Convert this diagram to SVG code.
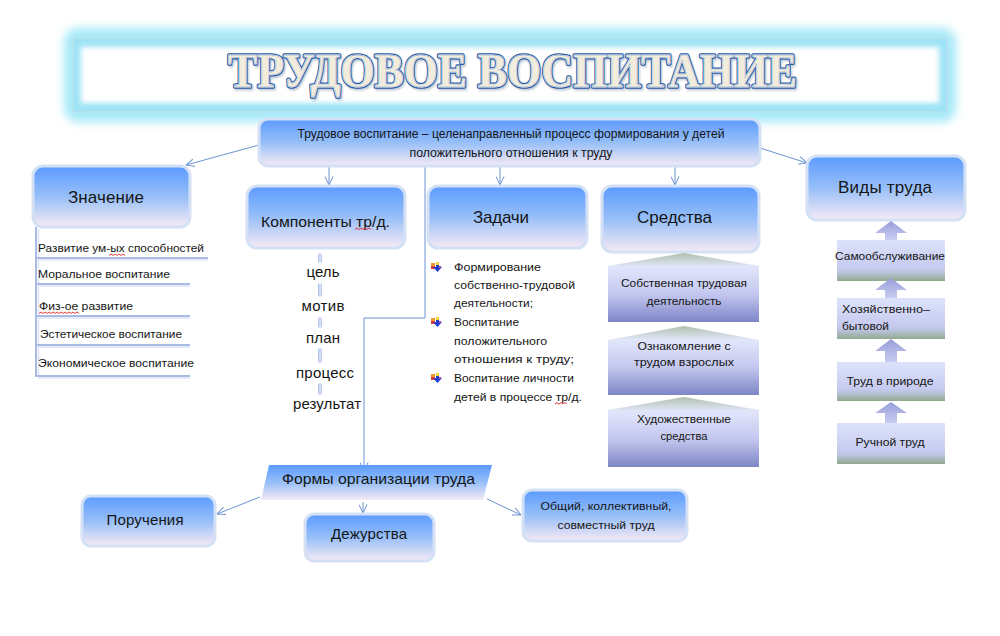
<svg xmlns="http://www.w3.org/2000/svg" width="1000" height="636" viewBox="0 0 1000 636">
<defs>
<linearGradient id="boxg" x1="0" y1="0" x2="0" y2="1">
<stop offset="0" stop-color="#5b9bff"/>
<stop offset="0.5" stop-color="#97bff8"/>
<stop offset="1" stop-color="#f6eaf4"/>
</linearGradient>
<linearGradient id="pentg" x1="0" y1="0" x2="0" y2="1">
<stop offset="0" stop-color="#b0c0ac"/>
<stop offset="0.2" stop-color="#e2e6fb"/>
<stop offset="0.6" stop-color="#c3c7ef"/>
<stop offset="1" stop-color="#7d85c6"/>
</linearGradient>
<linearGradient id="vidg" x1="0" y1="0" x2="0" y2="1">
<stop offset="0" stop-color="#dde2fb"/>
<stop offset="0.68" stop-color="#c6cbf0"/>
<stop offset="0.8" stop-color="#b8c2d8"/>
<stop offset="1" stop-color="#91a98d"/>
</linearGradient>
<linearGradient id="arrg" x1="0" y1="0" x2="0" y2="1">
<stop offset="0" stop-color="#979ed8"/>
<stop offset="1" stop-color="#c9cdf2"/>
</linearGradient>
<linearGradient id="barg" x1="0" y1="0" x2="1" y2="0">
<stop offset="0" stop-color="#9cb3e6"/>
<stop offset="0.5" stop-color="#e6edfb"/>
<stop offset="1" stop-color="#a9bde9"/>
</linearGradient>
<filter id="glow" x="-10%" y="-30%" width="120%" height="160%"><feGaussianBlur stdDeviation="5"/></filter>
<filter id="soft" x="-5%" y="-20%" width="110%" height="140%"><feGaussianBlur stdDeviation="2.5"/></filter>
<filter id="tshadow" x="-5%" y="-20%" width="110%" height="150%"><feGaussianBlur stdDeviation="1.2"/></filter>
<marker id="arr" viewBox="0 0 10 10" refX="9.5" refY="5" markerWidth="9" markerHeight="9" orient="auto" markerUnits="userSpaceOnUse">
<path d="M0,0.5 L9.5,5 L0,9.5" fill="none" stroke="#6d93d2" stroke-width="1.1"/>
</marker>
<g id="bul">
<rect x="-6" y="-4" width="4" height="3" fill="#f29a2e"/>
<rect x="-6" y="-1" width="4" height="3" fill="#e23a3a"/>
<rect x="-1" y="-5" width="3" height="3" fill="#f6d23a"/>
<path d="M-1,-2 L2,-2 L2,0 L5,0 L0.5,5 L-4,0 L-1,0 Z" fill="#1d3fcf"/>
<rect x="2" y="-1" width="2" height="2" fill="#b04aa8"/>
</g>
</defs>
<style>
.box{fill:url(#boxg);stroke:#d4e1f5;stroke-width:3}
.t{font-family:"Liberation Sans",Arial,sans-serif;fill:#151515}
.s11{font-size:11.5px}
.s12{font-size:12px}
.s15{font-size:15px}
.s17{font-size:17px}
.m{text-anchor:middle}
.conn{stroke:#6d93d2;stroke-width:1;fill:none}
.hl{stroke:#a9bbe3;stroke-width:2;fill:none}
.hl2{stroke:#dbe3f4;stroke-width:1.5;fill:none}
.sq{stroke:#e0262a;stroke-width:0.9;fill:none}
.bar{fill:url(#barg)}
.pent{fill:url(#pentg)}
.vid{fill:url(#vidg)}
.varr{fill:url(#arrg)}
.ttl{font-family:"Liberation Serif","Times New Roman",serif;font-size:48px;font-weight:bold;text-anchor:middle}
</style>
<rect x="0" y="0" width="1000" height="636" fill="#ffffff"/>

<g id="title">
<rect x="64" y="28" width="892" height="94" rx="14" fill="#a6e9f8" filter="url(#glow)"/>
<rect x="73" y="38" width="874" height="74" fill="#9fe4f6" stroke="#c2dfe8" stroke-width="1"/>
<rect x="81" y="47" width="858" height="56" fill="#ffffff" filter="url(#soft)"/>
<text class="ttl" x="514" y="89" textLength="569" lengthAdjust="spacingAndGlyphs" fill="#7d8fa8" stroke="#7d8fa8" stroke-width="3" filter="url(#tshadow)" opacity="0.5">ТРУДОВОЕ ВОСПИТАНИЕ</text>
<text class="ttl" x="512.5" y="87" textLength="569" lengthAdjust="spacingAndGlyphs" fill="#2d5da6" stroke="#2d5da6" stroke-width="3.6" stroke-linejoin="round">ТРУДОВОЕ ВОСПИТАНИЕ</text>
<text class="ttl" x="512.5" y="87" textLength="569" lengthAdjust="spacingAndGlyphs" fill="#f3efe1" stroke="#fbfaf4" stroke-width="1.1" stroke-linejoin="round">ТРУДОВОЕ ВОСПИТАНИЕ</text>
<text class="ttl" x="512.5" y="87" textLength="569" lengthAdjust="spacingAndGlyphs" fill="#f1ecdc" stroke="#7f9fd0" stroke-width="0.4">ТРУДОВОЕ ВОСПИТАНИЕ</text>
</g>

<g id="connectors">
<path class="conn" d="M259,145 L186,165" marker-end="url(#arr)"/>
<path class="conn" d="M329,166 L329,185" marker-end="url(#arr)"/>
<path class="conn" d="M500,166 L500,185" marker-end="url(#arr)"/>
<path class="conn" d="M675,166 L675,185" marker-end="url(#arr)"/>
<path class="conn" d="M760,148 L807,163" marker-end="url(#arr)"/>
<path class="conn" d="M425,166 L425,318 L364,318 L364,471" marker-end="url(#arr)"/>
<path class="conn" d="M260,497 L217,514" marker-end="url(#arr)"/>
<path class="conn" d="M363,502 L363,513" marker-end="url(#arr)"/>
<path class="conn" d="M487,499 L521,515" marker-end="url(#arr)"/>
</g>

<g id="definition">
<rect class="box" x="259" y="119" width="501" height="47" rx="9"/>
<text class="t s12 m" x="511" y="138" textLength="427" lengthAdjust="spacingAndGlyphs">Трудовое воспитание – целенаправленный  процесс формирования у детей</text>
<text class="t s12 m" x="511" y="157" textLength="203" lengthAdjust="spacingAndGlyphs">положительного  отношения к труду</text>
</g>

<g id="znachenie">
<rect class="box" x="33" y="166" width="157" height="61" rx="10"/>
<text class="t s17 m" x="106" y="203" textLength="76">Значение</text>
</g>

<g id="znachenie-list">
<path class="hl" d="M36,227 L36,377"/>
<path class="hl2" d="M38.5,229 L38.5,377"/>
<path class="hl" d="M36,258 L208,258"/><path class="hl2" d="M38,260 L208,260"/>
<path class="hl" d="M36,284 L190,284"/><path class="hl2" d="M38,286 L190,286"/>
<path class="hl" d="M36,316 L190,316"/><path class="hl2" d="M38,318 L190,318"/>
<path class="hl" d="M36,345 L190,345"/><path class="hl2" d="M38,347 L190,347"/>
<path class="hl" d="M36,376 L190,376"/><path class="hl2" d="M38,378 L190,378"/>
<text class="t s11" x="38" y="252" textLength="166" lengthAdjust="spacingAndGlyphs">Развитие ум-ых способностей</text>
<text class="t s11" x="38" y="278" textLength="132" lengthAdjust="spacingAndGlyphs">Моральное воспитание</text>
<text class="t s11" x="39" y="310" textLength="94" lengthAdjust="spacingAndGlyphs">Физ-ое  развитие</text>
<text class="t s11" x="40" y="338" textLength="142" lengthAdjust="spacingAndGlyphs">Эстетическое  воспитание</text>
<text class="t s11" x="38" y="367" textLength="156" lengthAdjust="spacingAndGlyphs">Экономическое  воспитание</text>
<polyline class="sq" points="109,255.5 111,254 113,255.5 115,254 117,255.5 119,254 121,255.5 123,254 125,255.5"/>
<polyline class="sq" points="39,313.5 41,312 43,313.5 45,312 47,313.5 49,312 51,313.5 53,312 55,313.5 57,312 59,313.5 61,312 63,313.5 65,312 67,313.5 69,312 71,313.5 73,312 75,313.5 77,312 79,313.5"/>
</g>

<g id="komponenty">
<rect class="box" x="247" y="186" width="158" height="62" rx="10"/>
<text class="t s15 m" x="325.5" y="227" textLength="129" lengthAdjust="spacingAndGlyphs">Компоненты тр/д.</text>
<polyline class="sq" points="355,229.5 357,228 359,229.5 361,228 363,229.5 365,228 367,229.5 369,228 371,229.5"/>
</g>

<g id="komponenty-list">
<rect class="bar" x="318" y="253" width="4" height="10" rx="2"/>
<rect class="bar" x="318" y="283" width="4" height="14" rx="2"/>
<rect class="bar" x="318" y="317" width="4" height="11" rx="2"/>
<rect class="bar" x="318" y="348" width="4" height="15" rx="2"/>
<rect class="bar" x="318" y="383" width="4" height="12" rx="2"/>
<text class="t s15 m" x="323" y="277" textLength="33">цель</text>
<text class="t s15 m" x="323" y="311" textLength="43">мотив</text>
<text class="t s15 m" x="323" y="343" textLength="34">план</text>
<text class="t s15 m" x="325" y="378" textLength="58">процесс</text>
<text class="t s15 m" x="327" y="409" textLength="68">результат</text>
</g>

<g id="zadachi">
<rect class="box" x="428" y="186" width="159" height="62" rx="10"/>
<text class="t s17 m" x="501" y="223" textLength="56">Задачи</text>
</g>

<g id="zadachi-list">
<use href="#bul" x="437" y="267"/>
<use href="#bul" x="437" y="322"/>
<use href="#bul" x="437" y="378"/>
<text class="t s11" x="454" y="271" textLength="87" lengthAdjust="spacingAndGlyphs">Формирование</text>
<text class="t s11" x="454" y="289" textLength="121" lengthAdjust="spacingAndGlyphs">собственно-трудовой</text>
<text class="t s11" x="454" y="307" textLength="79" lengthAdjust="spacingAndGlyphs">деятельности;</text>
<text class="t s11" x="454" y="326" textLength="65" lengthAdjust="spacingAndGlyphs">Воспитание</text>
<text class="t s11" x="454" y="345" textLength="93" lengthAdjust="spacingAndGlyphs">положительного</text>
<text class="t s11" x="454" y="363" textLength="120" lengthAdjust="spacingAndGlyphs">отношения к труду;</text>
<text class="t s11" x="454" y="382" textLength="120" lengthAdjust="spacingAndGlyphs">Воспитание личности</text>
<text class="t s11" x="454" y="401" textLength="128" lengthAdjust="spacingAndGlyphs">детей в процессе тр/д.</text>
<polyline class="sq" points="555,404 557,402.5 559,404 561,402.5 563,404 565,402.5 567,404"/>
</g>

<g id="sredstva">
<rect class="box" x="602" y="186" width="157" height="66" rx="10"/>
<text class="t s17 m" x="674.5" y="223" textLength="75">Средства</text>
</g>

<g id="sredstva-1">
<polygon class="pent" points="684,253 759,266 759,322 608,322 608,266"/>
<text class="t s11 m" x="684" y="287" textLength="126" lengthAdjust="spacingAndGlyphs">Собственная трудовая</text>
<text class="t s11 m" x="684" y="305" textLength="75" lengthAdjust="spacingAndGlyphs">деятельность</text>
</g>
<g id="sredstva-2">
<polygon class="pent" points="684,326 759,340 759,395 608,395 608,340"/>
<text class="t s11 m" x="684" y="350" textLength="93" lengthAdjust="spacingAndGlyphs">Ознакомление  с</text>
<text class="t s11 m" x="684" y="366" textLength="100" lengthAdjust="spacingAndGlyphs">трудом  взрослых</text>
</g>
<g id="sredstva-3">
<polygon class="pent" points="684,397 759,410 759,467 608,467 608,410"/>
<text class="t s11 m" x="684" y="423" textLength="94" lengthAdjust="spacingAndGlyphs">Художественные</text>
<text class="t s11 m" x="684" y="440" textLength="47" lengthAdjust="spacingAndGlyphs">средства</text>
</g>

<g id="vidy">
<rect class="box" x="807" y="156" width="158" height="64" rx="10"/>
<text class="t s17 m" x="885" y="193" textLength="94">Виды труда</text>
</g>

<g id="vidy-1">
<polygon class="varr" points="891,221 907,233 897,233 897,240 885,240 885,233 875,233"/>
<rect class="vid" x="837" y="240" width="108" height="41"/>
<text class="t s11 m" x="890" y="260" textLength="110" lengthAdjust="spacingAndGlyphs">Самообслуживание</text>
</g>
<g id="vidy-2">
<polygon class="varr" points="891,278 907,290 897,290 897,298 885,298 885,290 875,290"/>
<rect class="vid" x="837" y="298" width="108" height="41"/>
<text class="t s11" x="842" y="313" textLength="88" lengthAdjust="spacingAndGlyphs">Хозяйственно–</text>
<text class="t s11" x="842" y="330" textLength="47" lengthAdjust="spacingAndGlyphs">бытовой</text>
</g>
<g id="vidy-3">
<polygon class="varr" points="891,339 907,351 897,351 897,362 885,362 885,351 875,351"/>
<rect class="vid" x="837" y="362" width="108" height="39"/>
<text class="t s11 m" x="890" y="385" textLength="87" lengthAdjust="spacingAndGlyphs">Труд в природе</text>
</g>
<g id="vidy-4">
<polygon class="varr" points="891,402 907,413 897,413 897,423 885,423 885,413 875,413"/>
<rect class="vid" x="837" y="423" width="108" height="41"/>
<text class="t s11 m" x="890" y="446" textLength="69" lengthAdjust="spacingAndGlyphs">Ручной труд</text>
</g>

<g id="formy">
<polygon points="269,465 492,465 483,500 261,500" fill="url(#boxg)"/>
<text class="t s15 m" x="378.5" y="484" textLength="193" lengthAdjust="spacingAndGlyphs">Формы организации труда</text>
</g>

<g id="porucheniya">
<rect class="box" x="82" y="496" width="133" height="50" rx="9"/>
<text class="t s15 m" x="145" y="525" textLength="77">Поручения</text>
</g>

<g id="dezhurstva">
<rect class="box" x="305" y="514" width="129" height="47" rx="9"/>
<text class="t s15 m" x="369" y="539" textLength="76">Дежурства</text>
</g>

<g id="obshchiy">
<rect class="box" x="523" y="490" width="164" height="51" rx="9"/>
<text class="t s11 m" x="606" y="510" textLength="131" lengthAdjust="spacingAndGlyphs">Общий, коллективный,</text>
<text class="t s11 m" x="606" y="529" textLength="97" lengthAdjust="spacingAndGlyphs">совместный труд</text>
</g>
</svg>
